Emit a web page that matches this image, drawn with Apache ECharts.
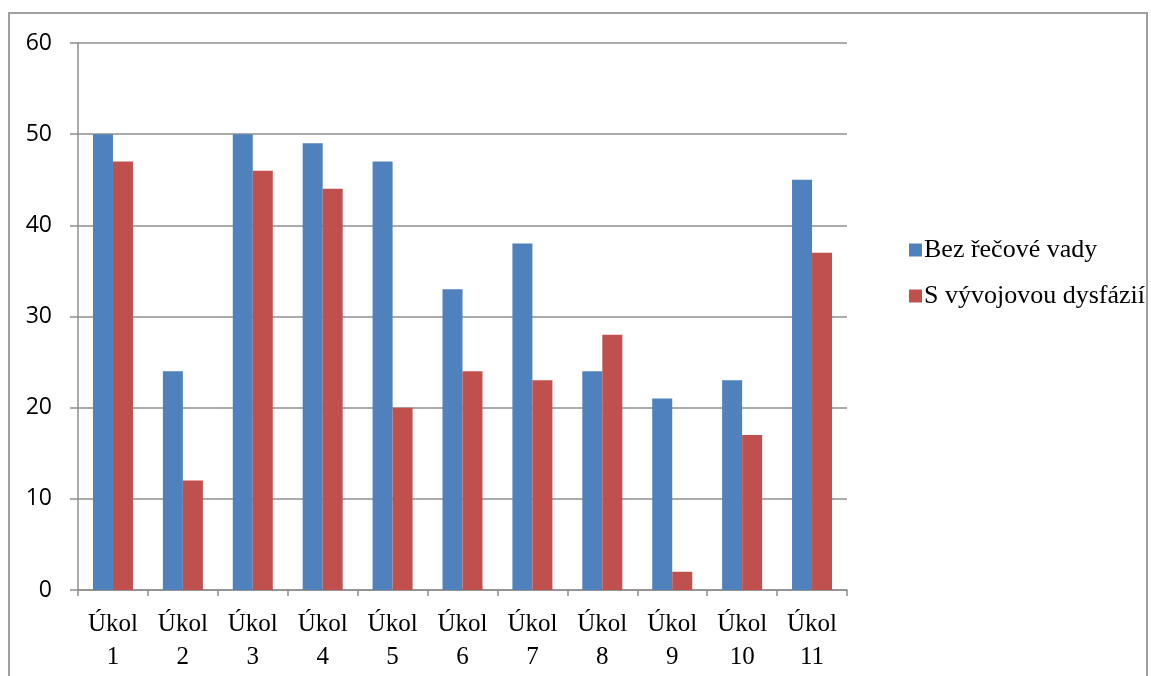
<!DOCTYPE html>
<html>
<head>
<meta charset="utf-8">
<script src="https://cdn.jsdelivr.net/npm/echarts@6/dist/echarts.min.js"></script>
<style>html,body{margin:0;padding:0;background:#fff}#c{width:1151px;height:676px}</style>
</head>
<body>
<div id="c"></div>
<script>
const categories = ['Úkol\n1','Úkol\n2','Úkol\n3','Úkol\n4','Úkol\n5','Úkol\n6','Úkol\n7','Úkol\n8','Úkol\n9','Úkol\n10','Úkol\n11'];
const seriesNames = ['Bez řečové vady', 'S vývojovou dysfázií'];
const bezVady = [50, 24, 50, 49, 47, 33, 38, 24, 21, 23, 45];
const dysfazie = [47, 12, 46, 44, 20, 24, 23, 28, 2, 17, 37];
const yTicks = {min: 0, max: 60, interval: 10};

const chart = echarts.init(document.getElementById('c'), null, {renderer: 'canvas'});
const gridColor = '#8f8f8f';
chart.setOption({
  animation: false,
  backgroundColor: '#fff',
  graphic: [{
    type: 'rect', shape: {x: 9, y: 13, width: 1138, height: 700},
    style: {fill: 'none', stroke: '#a0a0a0', lineWidth: 2}, silent: true, z: -1
  }],
  grid: {left: 78, right: 1151 - 847, top: 43, bottom: 676 - 590, containLabel: false},
  legend: {
    orient: 'vertical', left: 904, top: 232, itemWidth: 13, itemHeight: 13, itemGap: 20,
    icon: 'rect',
    textStyle: {fontFamily: 'Liberation Serif', fontSize: 26, lineHeight: 26, color: '#000', padding: [0,0,0,-3]},
    data: seriesNames
  },
  xAxis: {
    type: 'category', data: categories,
    axisLine: {lineStyle: {color: gridColor, width: 1.5}},
    axisTick: {show: true, length: 6, lineStyle: {color: gridColor, width: 1.5}},
    axisLabel: {fontFamily: 'Liberation Serif', fontSize: 25, color: '#000', lineHeight: 33, margin: 18, interval: 0}
  },
  yAxis: {
    type: 'value', min: yTicks.min, max: yTicks.max, interval: yTicks.interval,
    axisLine: {show: true, lineStyle: {color: gridColor, width: 1.5}},
    axisTick: {show: true, length: 8, lineStyle: {color: gridColor, width: 1.5}},
    splitLine: {lineStyle: {color: gridColor, width: 1.5}},
    axisLabel: {fontFamily: 'Open Sans', fontSize: 23, color: '#000', margin: 26}
  },
  series: [
    {name: seriesNames[0], type: 'bar', data: bezVady, barWidth: 20, barGap: '0%', itemStyle: {color: '#4F81BD'}},
    {name: seriesNames[1], type: 'bar', data: dysfazie, barWidth: 20, barGap: '0%', itemStyle: {color: '#C0504D'}}
  ]
});
</script>
</body>
</html>
